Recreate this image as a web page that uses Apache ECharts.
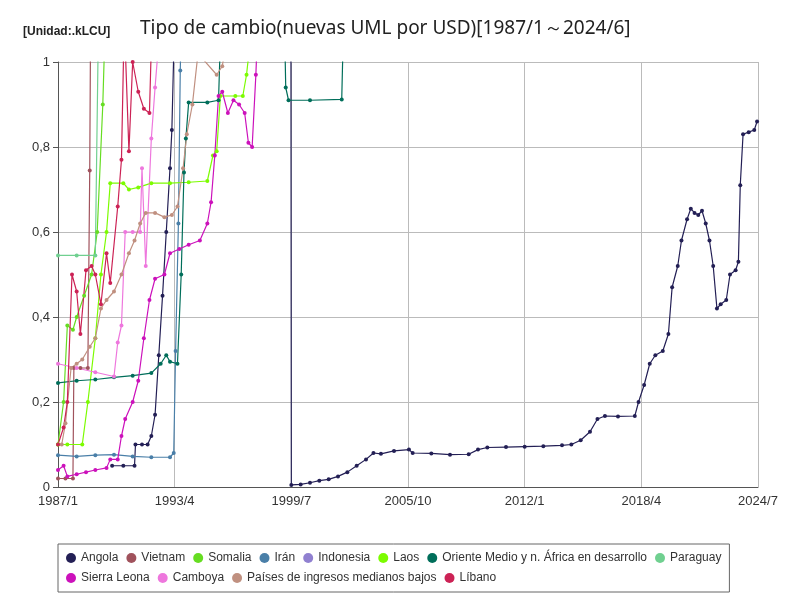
<!DOCTYPE html><html><head><meta charset="utf-8"><script src="https://cdn.jsdelivr.net/npm/echarts@6/dist/echarts.min.js"></script></head><body style="margin:0"><div id="c" style="width:800px;height:600px"></div><script>
const names=["Angola","Vietnam","Somalia","Irán","Indonesia","Laos","Oriente Medio y n. África en desarrollo","Paraguay","Sierra Leona","Camboya","Países de ingresos medianos bajos","Líbano"];
const colors=["#231f55","#a0525c","#66dd22","#4a7fa8","#9080d0","#7cfc00","#006e5a","#70d090","#cc11bb","#ee77dd","#c09080","#cc2255"];
const angola=[[1989.9,0.05],[1990.5,0.05],[1991.1,0.05],[1991.15,0.1],[1991.5,0.1],[1991.8,0.1],[1992.0,0.12],[1992.2,0.17],[1992.4,0.31],[1992.6,0.45],[1992.8,0.6],[1993.0,0.75],[1993.1,0.84],[1993.3,1.2],[1998,5],[1999.4,5],[1999.5,0.005],[2000.0,0.006],[2000.5,0.01],[2001.0,0.015],[2001.5,0.018],[2002.0,0.025],[2002.5,0.035],[2003.0,0.05],[2003.5,0.065],[2003.9,0.08],[2004.3,0.078],[2005.0,0.085],[2005.8,0.088],[2006.0,0.08],[2007.0,0.079],[2008.0,0.076],[2009.0,0.077],[2009.5,0.088],[2010.0,0.093],[2011.0,0.094],[2012.0,0.095],[2013.0,0.096],[2014.0,0.098],[2014.5,0.1],[2015.0,0.11],[2015.5,0.13],[2015.9,0.16],[2016.3,0.167],[2017.0,0.166],[2017.9,0.167],[2018.1,0.2],[2018.4,0.24],[2018.7,0.29],[2019.0,0.31],[2019.4,0.32],[2019.7,0.36],[2019.9,0.47],[2020.2,0.52],[2020.4,0.58],[2020.7,0.63],[2020.9,0.655],[2021.1,0.645],[2021.3,0.64],[2021.5,0.65],[2021.7,0.62],[2021.9,0.58],[2022.1,0.52],[2022.3,0.42],[2022.5,0.43],[2022.8,0.44],[2023.0,0.5],[2023.3,0.51],[2023.45,0.53],[2023.55,0.71],[2023.7,0.83],[2024.0,0.835],[2024.3,0.84],[2024.45,0.86]];
const vietnam=[[1987.0,0.02],[1987.4,0.02],[1987.8,0.02],[1987.85,0.28],[1988.2,0.28],[1988.6,0.28],[1988.7,0.745],[1988.8,1.5],[1995,11]];
const somalia=[[1987.0,0.1],[1987.3,0.2],[1987.5,0.38],[1987.8,0.37],[1988.0,0.4],[1988.4,0.45],[1988.8,0.5],[1989.1,0.6],[1989.4,0.9],[1989.6,1.2],[1995,2.6]];
const iran=[[1987.0,0.075],[1988.0,0.072],[1989.0,0.075],[1990.0,0.076],[1991.0,0.072],[1992.0,0.07],[1993.0,0.07],[1993.2,0.08],[1993.3,0.32],[1993.45,0.62],[1993.55,0.98],[1993.7,1.3],[2000,1.75]];
const indonesia=[[1987.0,1.6],[1995,2.2],[2005,9.7],[2024.5,16]];
const laos=[[1987.0,0.1],[1987.5,0.1],[1988.3,0.1],[1988.6,0.2],[1989.0,0.35],[1989.3,0.5],[1989.6,0.6],[1989.8,0.715],[1990.5,0.715],[1990.8,0.7],[1991.3,0.705],[1992.0,0.715],[1993.0,0.715],[1994.0,0.717],[1995.0,0.72],[1995.3,0.78],[1995.5,0.79],[1995.7,0.92],[1996.5,0.92],[1996.9,0.92],[1997.1,0.97],[1997.3,1.05],[2000,7.5]];
const oriente=[[1987.0,0.245],[1988.0,0.25],[1989.0,0.253],[1990.0,0.258],[1991.0,0.262],[1992.0,0.268],[1992.5,0.29],[1992.8,0.31],[1993.0,0.295],[1993.4,0.29],[1993.6,0.5],[1993.75,0.74],[1993.85,0.82],[1994.0,0.905],[1995.0,0.905],[1995.6,0.91],[1995.8,1.2],[1999.0,1.4],[1999.2,0.94],[1999.35,0.91],[2000.5,0.91],[2002.2,0.912],[2002.3,1.1],[2024.5,1.5]];
const paraguay=[[1987.0,0.545],[1988.0,0.545],[1989.0,0.545],[1989.2,1.2],[2000,3]];
const sierra=[[1987.0,0.04],[1987.3,0.05],[1987.5,0.025],[1988.0,0.03],[1988.5,0.035],[1989.0,0.04],[1989.6,0.045],[1989.8,0.065],[1990.2,0.065],[1990.4,0.12],[1990.6,0.16],[1991.0,0.2],[1991.3,0.25],[1991.6,0.35],[1991.9,0.44],[1992.2,0.49],[1992.7,0.5],[1993.0,0.55],[1993.5,0.56],[1994.0,0.57],[1994.6,0.58],[1995.0,0.62],[1995.2,0.67],[1995.4,0.78],[1995.6,0.92],[1995.8,0.93],[1996.1,0.88],[1996.4,0.91],[1996.7,0.9],[1997.0,0.88],[1997.2,0.81],[1997.4,0.80],[1997.6,0.97],[1997.8,1.2],[2005,2.5]];
const camboya=[[1987.0,0.29],[1988.0,0.28],[1989.0,0.27],[1990.0,0.26],[1990.2,0.34],[1990.4,0.38],[1990.6,0.6],[1991.0,0.6],[1991.4,0.6],[1991.5,0.75],[1991.7,0.52],[1992.0,0.82],[1992.2,0.94],[1992.4,1.05],[2000,3.8]];
const paises=[[1987.2,0.1],[1987.4,0.15],[1987.7,0.28],[1988.0,0.29],[1988.3,0.3],[1988.7,0.33],[1989.0,0.35],[1989.3,0.42],[1989.6,0.44],[1990.0,0.46],[1990.4,0.5],[1990.8,0.55],[1991.1,0.58],[1991.4,0.62],[1991.7,0.645],[1992.2,0.645],[1992.7,0.635],[1993.1,0.64],[1993.4,0.66],[1993.7,0.75],[1993.9,0.83],[1994.2,0.9],[1994.5,1.02],[1995.5,0.97],[1995.8,0.99],[1996.2,1.1],[2024.5,1.6]];
const libano=[[1987.0,0.1],[1987.3,0.14],[1987.5,0.2],[1987.75,0.5],[1988.0,0.46],[1988.2,0.36],[1988.5,0.51],[1988.8,0.52],[1989.0,0.5],[1989.3,0.43],[1989.6,0.55],[1989.8,0.48],[1990.2,0.66],[1990.4,0.77],[1990.55,1.1],[1990.8,0.79],[1991.0,1.0],[1991.3,0.93],[1991.6,0.89],[1991.9,0.88],[1992.1,1.2],[2000,1.5]];
const all=[angola,vietnam,somalia,iran,indonesia,laos,oriente,paraguay,sierra,camboya,paises,libano];
const fmtX=v=>{const y=Math.floor(v+1e-6);const m=Math.round((v-y)*12)+1;return y+"/"+m;};
const ch=echarts.init(document.getElementById('c'));
ch.setOption({animation:false,color:colors,
title:[{text:"Tipo de cambio(nuevas UML por USD)[1987/1～2024/6]",left:135,top:14,textStyle:{fontSize:19,fontWeight:'normal',color:'#222',fontFamily:'Noto Sans'}},{text:"[Unidad:.kLCU]",left:18,top:21,textStyle:{fontSize:12,fontWeight:'bold',color:'#222'}}],
grid:{left:58,right:42,top:62,bottom:113},
xAxis:{type:'value',min:1987,max:2024.5,interval:6.25,axisLabel:{formatter:fmtX,fontSize:13,color:'#333',showMaxLabel:true},splitLine:{show:true,lineStyle:{color:'#bbb'}},axisLine:{lineStyle:{color:'#555'}},axisTick:{show:false}},
yAxis:{type:'value',min:0,max:1,interval:0.2,axisLabel:{formatter:v=>String(+v.toFixed(1)).replace('.',','),fontSize:13,color:'#333'},splitLine:{lineStyle:{color:'#bbb'}},axisLine:{show:true,lineStyle:{color:'#555'}}},
legend:{bottom:8,left:58,width:700,itemWidth:10,itemHeight:10,icon:'circle',itemGap:8,borderColor:'#666',borderWidth:1,padding:[8,8],textStyle:{fontSize:12,color:'#333'}},
series:names.map((n,i)=>({name:n,type:'line',data:all[i],symbol:'circle',symbolSize:4,lineStyle:{width:1.2},clip:true}))
});
</script></body></html>
